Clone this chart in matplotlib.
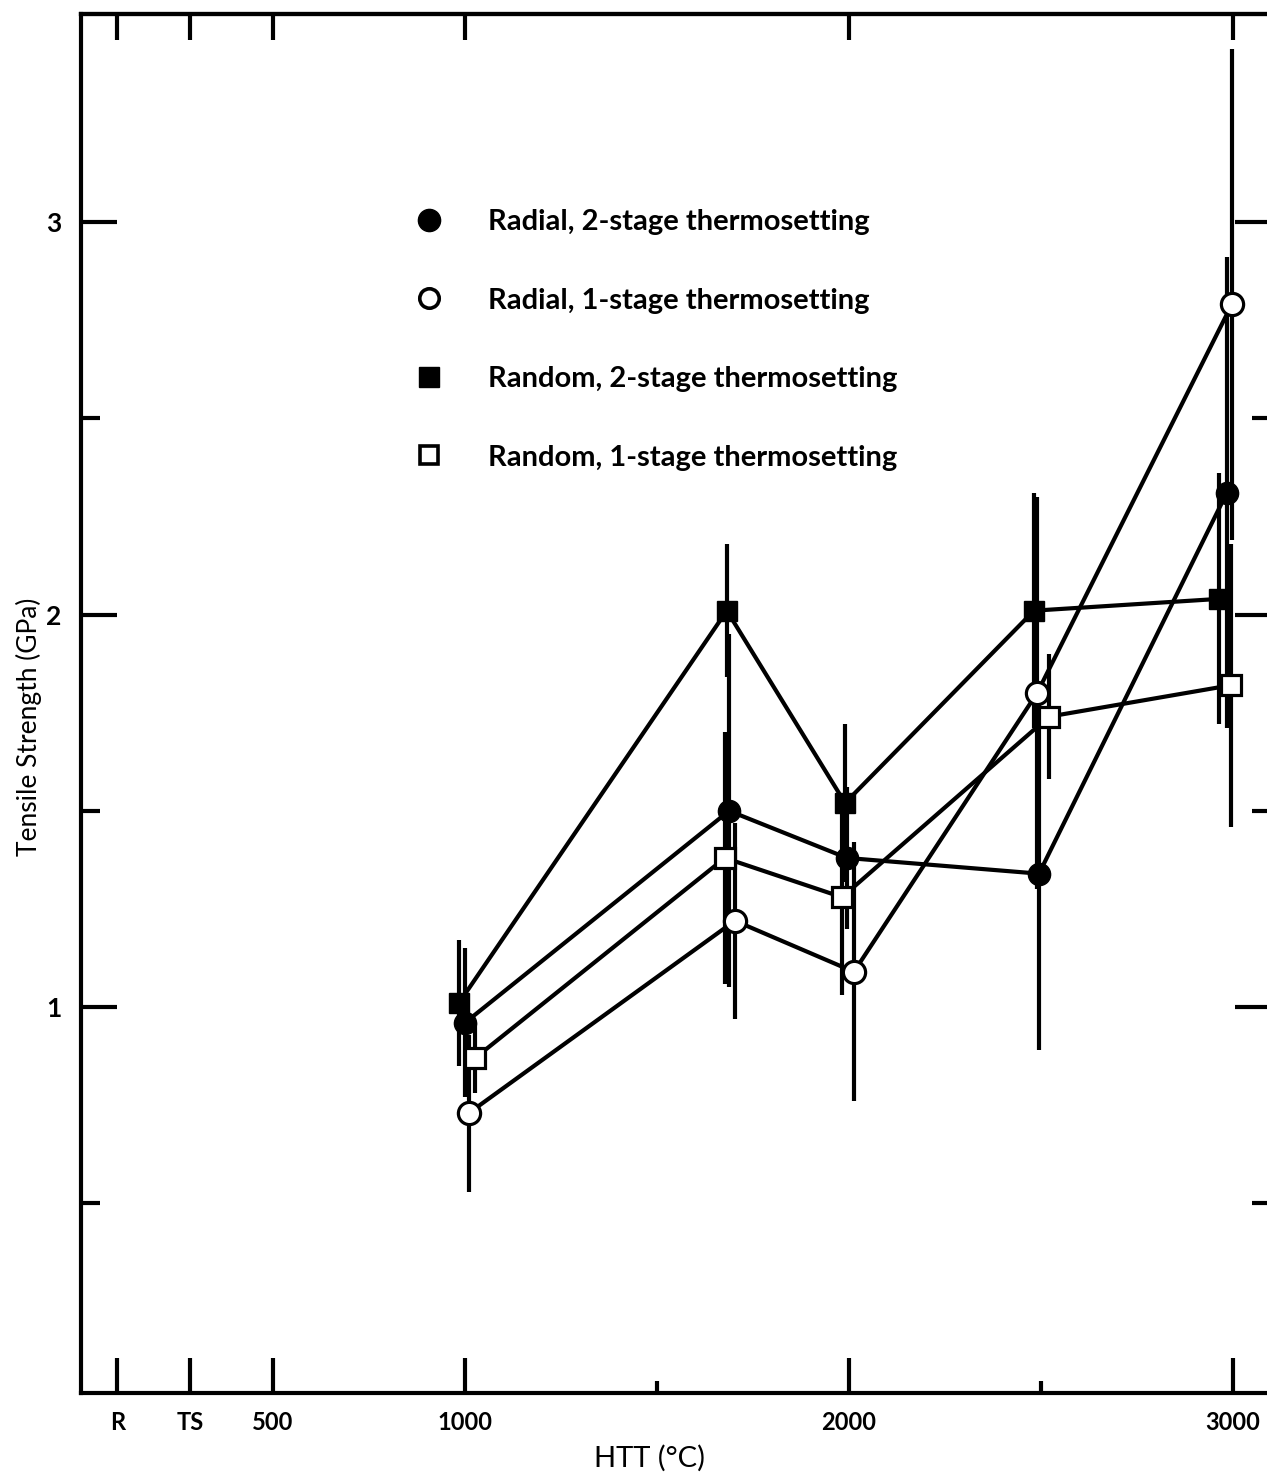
import matplotlib
matplotlib.use('Agg')
import matplotlib.pyplot as plt
from matplotlib.lines import Line2D
from matplotlib.ticker import FixedLocator, NullFormatter

plt.rcParams['font.family'] = ['Lato', 'DejaVu Sans']
plt.rcParams['font.weight'] = 'bold'

# heat treatment temperature (C) and tensile strength (GPa)
htt_rad2 = [1000, 1688, 1995, 2495, 2984]
ts_rad2 = [0.96, 1.50, 1.38, 1.34, 2.31]
err_rad2 = [0.19, 0.45, 0.18, 0.45, 0.60]

htt_rad1 = [1010, 1703, 2013, 2490, 2997]
ts_rad1 = [0.73, 1.22, 1.09, 1.80, 2.79]
err_rad1_lo = [0.20, 0.25, 0.33, 0.50, 0.60]
err_rad1_hi = [0.20, 0.25, 0.33, 0.50, 0.65]

htt_rnd2 = [984, 1682, 1990, 2482, 2964]
ts_rnd2 = [1.01, 2.01, 1.52, 2.01, 2.04]
err_rnd2 = [0.16, 0.17, 0.20, 0.30, 0.32]

htt_rnd1 = [1026, 1677, 1982, 2521, 2995]
ts_rnd1 = [0.87, 1.38, 1.28, 1.74, 1.82]
err_rnd1 = [0.09, 0.32, 0.25, 0.16, 0.36]

labels = ['Radial, 2-stage thermosetting', 'Radial, 1-stage thermosetting',
          'Random, 2-stage thermosetting', 'Random, 1-stage thermosetting']

xtick_pos = [95, 285, 500, 1000, 2000, 3000]
xtick_lab = ['R', 'TS', '500', '1000', '2000', '3000']

fig = plt.figure(figsize=(12.67, 14.77), dpi=100)
ax = fig.add_axes([0.0639, 0.0569, 0.9395, 0.9336])

lw = 3.0
ms = 16
# error bars
ax.errorbar(htt_rad2, ts_rad2, yerr=err_rad2, fmt='none', ecolor='k', elinewidth=lw, zorder=1)
ax.errorbar(htt_rad1, ts_rad1, yerr=[err_rad1_lo, err_rad1_hi], fmt='none', ecolor='k', elinewidth=lw, zorder=1)
ax.errorbar(htt_rnd2, ts_rnd2, yerr=err_rnd2, fmt='none', ecolor='k', elinewidth=lw, zorder=1)
ax.errorbar(htt_rnd1, ts_rnd1, yerr=err_rnd1, fmt='none', ecolor='k', elinewidth=lw, zorder=1)

# connecting lines
for xs, ys in [(htt_rad2, ts_rad2), (htt_rad1, ts_rad1), (htt_rnd2, ts_rnd2), (htt_rnd1, ts_rnd1)]:
    ax.plot(xs, ys, color='k', lw=lw, zorder=2, solid_capstyle='butt')

# markers
ax.plot(htt_rad2, ts_rad2, 'o', ms=ms, mfc='k', mec='k', zorder=4)
ax.plot(htt_rad1, ts_rad1, 'o', ms=ms, mfc='white', mec='k', mew=2.3, zorder=4)
ax.plot(htt_rnd2, ts_rnd2, 's', ms=ms - 1, mfc='k', mec='k', zorder=4)
ax.plot(htt_rnd1, ts_rnd1, 's', ms=ms - 1, mfc='white', mec='k', mew=2.3, zorder=4)

ax.set_xlim(0, 3100)
ax.set_ylim(0.017, 3.53)

for s in ax.spines.values():
    s.set_linewidth(3)

ax.xaxis.set_major_locator(FixedLocator(xtick_pos))
ax.set_xticklabels(xtick_lab)
ax.xaxis.set_minor_locator(FixedLocator([1500, 2500]))
ax.tick_params(axis='x', which='major', direction='in', length=25, width=3, labelsize=17, pad=13)
ax.tick_params(axis='x', which='minor', direction='in', length=9, width=3)

ax.yaxis.set_major_locator(FixedLocator([1, 2, 3]))
ax.set_yticklabels(['1', '2', '3'])
ax.yaxis.set_minor_locator(FixedLocator([0.5, 1.5, 2.5]))
ax.tick_params(axis='y', which='major', direction='in', length=26, width=3, labelsize=19, pad=14,
               right=True)
ax.tick_params(axis='y', which='minor', direction='in', length=14, width=3, right=True)

top = ax.secondary_xaxis('top')
top.xaxis.set_major_locator(FixedLocator(xtick_pos))
top.xaxis.set_major_formatter(NullFormatter())
top.tick_params(direction='in', length=19, width=3)
top.spines['top'].set_linewidth(3)

ax.set_xlabel('HTT (°C)', fontsize=21)
ax.xaxis.set_label_coords(0.478, -0.038)
ax.set_ylabel('Tensile Strength (GPa)', fontsize=19)
ax.yaxis.set_label_coords(-0.033, 0.483)

handles = [
    Line2D([], [], ls='none', marker='o', ms=ms, mfc='k', mec='k'),
    Line2D([], [], ls='none', marker='o', ms=ms - 2, mfc='white', mec='k', mew=2.6),
    Line2D([], [], ls='none', marker='s', ms=ms - 2, mfc='k', mec='k'),
    Line2D([], [], ls='none', marker='s', ms=ms - 3, mfc='white', mec='k', mew=2.6),
]
ax.legend(handles, labels, loc='upper left', bbox_to_anchor=(0.282, 0.8585), frameon=False,
          fontsize=21, handlelength=0.85, handletextpad=1.6, labelspacing=1.8,
          borderpad=0, borderaxespad=0)

fig.savefig('out.png', dpi=100)
